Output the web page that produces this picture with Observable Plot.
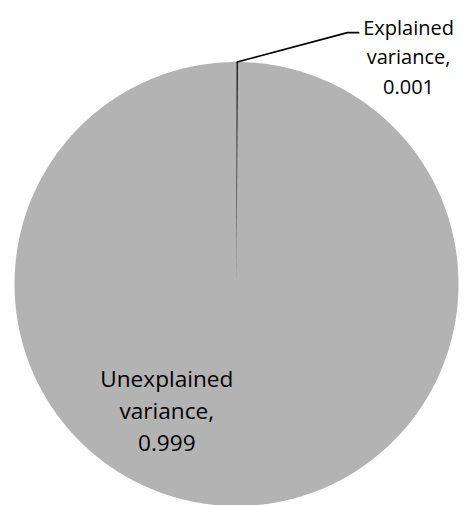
<!DOCTYPE html>
<html>
<head>
<meta charset="utf-8">
<script src="https://cdn.jsdelivr.net/npm/d3@7"></script>
<script src="https://cdn.jsdelivr.net/npm/@observablehq/plot@0.6"></script>
<style>
  body { margin: 0; background: #fff; }
  svg { display: block; }
</style>
</head>
<body>
<div id="chart"></div>
<script>
// Share of variance explained by the model
const categories = ["Explained variance", "Unexplained variance"];
const values = [0.001, 0.999];
const sliceColors = ["#000000", "#b3b3b3"];

// Slices run clockwise from 12 o'clock, in data order
const rows = categories.map((category, i) => ({category, value: values[i]}));
const arcs = d3.pie().sort(null).value(d => d.value)(rows);

// Outline of each slice in unit-circle coordinates (y points up)
function slicePolygon(arc) {
  const span = arc.endAngle - arc.startAngle;
  const n = Math.max(2, Math.ceil(span / (Math.PI / 360)));
  const pts = [{x: 0, y: 0}];
  for (let k = 0; k <= n; k++) {
    const a = arc.startAngle + span * k / n;
    pts.push({x: Math.sin(a), y: Math.cos(a)});
  }
  pts.push({x: 0, y: 0});
  return pts;
}

const labelText = (d) =>
  d.data.category.replace(" ", "\n") + ",\n" + d3.format(".3f")(d.data.value);

// Explained slice: label sits outside, joined by a leader line
const small = arcs[0];
const mid0 = (small.startAngle + small.endAngle) / 2;
const leader = [
  {x: Math.sin(mid0), y: Math.cos(mid0)},
  {x: 0.50, y: 1.132},
  {x: 0.55, y: 1.132}
];

const chart = Plot.plot({
  width: 468,
  height: 505,
  margin: 0,
  x: {domain: [-1, 1], range: [14, 458], axis: null},
  y: {domain: [-1, 1], range: [505.5, 61.5], axis: null},
  style: {fontFamily: "'Open Sans', sans-serif", background: "#fff", color: "#000"},
  marks: [
    ...[1, 0].map(i =>
      Plot.line(slicePolygon(arcs[i]), {
        x: "x", y: "y", fill: sliceColors[i], stroke: "none", curve: "linear"
      })
    ),
    Plot.line(leader, {x: "x", y: "y", stroke: "#000", strokeWidth: 1.8}),
    Plot.text([arcs[0]], {
      x: () => 0.775, y: () => 1.0324, text: labelText,
      fontSize: 20, lineHeight: 1.485, textAnchor: "middle", lineAnchor: "middle", fill: "#000"
    }),
    Plot.text([arcs[1]], {
      x: () => -0.314, y: () => -0.562, text: labelText,
      fontSize: 22.6, lineHeight: 1.4, textAnchor: "middle", lineAnchor: "middle", fill: "#000"
    })
  ]
});

document.getElementById("chart").appendChild(chart);
</script>
</body>
</html>
